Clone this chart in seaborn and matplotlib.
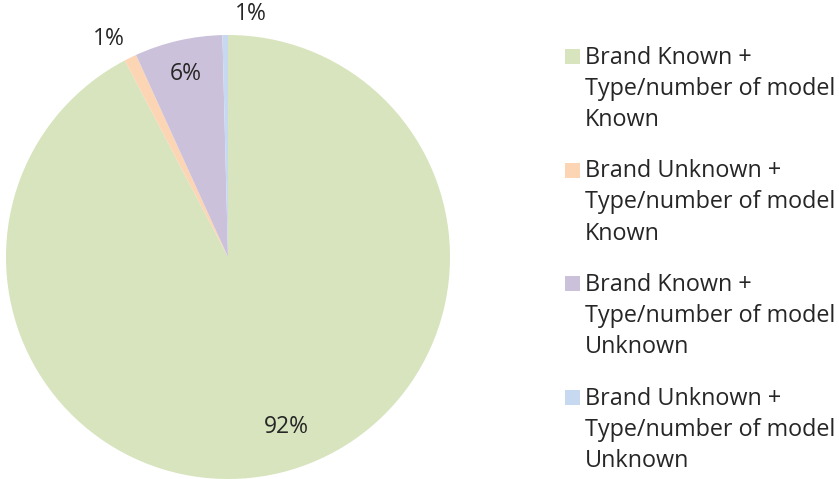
import matplotlib
matplotlib.use("Agg")
import matplotlib.pyplot as plt
from matplotlib.patches import Rectangle
import seaborn as sns
import numpy as np

# ----------------------------
# Data
# ----------------------------
categories = [
    "Brand Known +\nType/number of model\nKnown",
    "Brand Unknown +\nType/number of model\nKnown",
    "Brand Known +\nType/number of model\nUnknown",
    "Brand Unknown +\nType/number of model\nUnknown",
]
shares = [92.3, 0.9, 6.4, 0.4]
pct_labels = ["92%", "1%", "6%", "1%"]

colors = ["#D7E4BD", "#FCD5B5", "#CCC1DA", "#C6D9F1"]

sns.set_theme(style="white")
plt.rcParams["font.family"] = ["Open Sans", "DejaVu Sans"]
text_color = "#262626"

W, H = 839, 479
fig = plt.figure(figsize=(W / 100, H / 100), dpi=100)
ax = fig.add_axes([6 / W, 0.0, 444 / W, 444 / H])

wedges, _ = ax.pie(shares, colors=sns.color_palette(colors), startangle=90,
                   counterclock=False, radius=1.0,
                   wedgeprops=dict(linewidth=0))
ax.set_xlim(-1, 1)
ax.set_ylim(-1, 1)
ax.set_aspect("equal")
ax.axis("off")

# label placement: distance from centre and angular nudge (degrees)
label_dist = [0.81, 1.12, 0.845, 1.1]
label_nudge = [5, 2.5, 0, -6]
for w, lab, d, nudge in zip(wedges, pct_labels, label_dist, label_nudge):
    ang = np.deg2rad((w.theta1 + w.theta2) / 2 + nudge)
    ax.text(d * np.cos(ang), d * np.sin(ang), lab, ha="center", va="center",
            fontsize=16.5, color=text_color, clip_on=False)

# legend drawn by hand so the swatch sits on the first line
entry_step = 113.7
line_px = 31
for i, (w, cat) in enumerate(zip(wedges, categories)):
    first_base = 64 + entry_step * i
    last_base = first_base + 2 * line_px
    fig.patches.append(Rectangle((565 / W, 1 - first_base / H), 15 / W, 15 / H,
                                 transform=fig.transFigure,
                                 facecolor=w.get_facecolor(), edgecolor="none"))
    # va="baseline" anchors the last line of a multi-line text
    fig.text(585 / W, 1 - last_base / H, cat, ha="left", va="baseline",
             fontsize=16.8, color=text_color, linespacing=1.4)

plt.savefig("out.png", dpi=100)
